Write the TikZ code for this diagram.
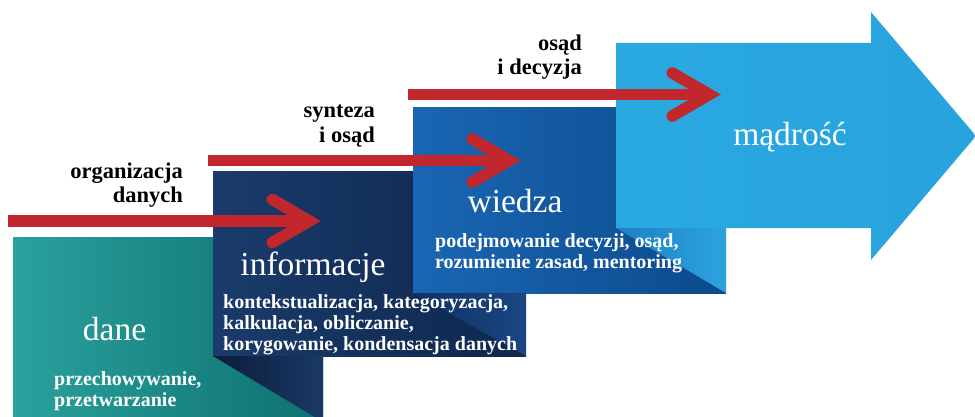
\documentclass[tikz,border=0pt]{standalone}
\usepackage{fontspec}
\usetikzlibrary{calc}
\newfontfamily\titlefont{Liberation Serif}
\newfontfamily\boldfont{Liberation Serif}
\definecolor{arrowred}{HTML}{C1272D}
\definecolor{daneL}{HTML}{2AA19D}
\definecolor{daneR}{HTML}{0E7070}
\definecolor{infL}{HTML}{1A3B6B}
\definecolor{infR}{HTML}{0E274D}
\definecolor{infFoldL}{HTML}{0A1C3A}
\definecolor{infFoldR}{HTML}{1B3866}
\definecolor{wieL}{HTML}{1A66B4}
\definecolor{wieR}{HTML}{0B4A8B}
\definecolor{wieFoldL}{HTML}{0F3264}
\definecolor{wieFoldR}{HTML}{1A4682}
\definecolor{madL}{HTML}{2AA9E1}
\definecolor{madR}{HTML}{28A2DC}
\definecolor{madFoldL}{HTML}{1F80C4}
\definecolor{madFoldR}{HTML}{2BA3DE}
\tikzset{
  redshaft/.style={draw=arrowred, line width=11.5pt, line cap=butt},
  redhead/.style={draw=arrowred, line width=11.5pt, line cap=round, line join=miter},
  title/.style={text=white, font=\titlefont\fontsize{33.5}{38}\selectfont, inner sep=0pt, anchor=base},
  desc/.style={text=white, font=\boldfont\bfseries\fontsize{20}{21}\selectfont, align=left, inner sep=0pt, anchor=north west},
  lbl/.style={text=black, font=\boldfont\bfseries\fontsize{22.5}{24.5}\selectfont, align=right, inner sep=0pt, anchor=north east},
}
\begin{document}
\begin{tikzpicture}[x=1pt,y=-1pt]
\useasboundingbox (0,0) rectangle (975,417);
\begin{scope}
\clip (0,0) rectangle (975,417);
% dane
\shade[left color=daneL, right color=daneR] (13,237) rectangle (323,425);
% informacje
\shade[left color=infL, right color=infR] (213,172) rectangle (526,356);
\shade[left color=infFoldL, right color=infFoldR] (213,356) -- (323,356) -- (323,422) -- cycle;
% wiedza
\shade[left color=wieL, right color=wieR] (413,108) rectangle (726,293);
\shade[left color=wieFoldL, right color=wieFoldR] (413,293) -- (526,293) -- (526,356) -- cycle;
% madrosc
\shade[left color=madL, right color=madR] (616,43) -- (871,43) -- (871,12) -- (976,136) -- (871,260) -- (871,228) -- (616,228) -- cycle;
\shade[left color=madFoldL, right color=madFoldR] (616,228) -- (726,228) -- (726,293) -- cycle;
\end{scope}

% titles
\node[title] (tdane) at (114.5,340) {dane};
\node[title] (tinf) at (313,275) {informacje};
\node[title] (twie) at (515,212) {wiedza};
\node[title] (tmad) at (790,146) {mądrość};

% descriptions
\node[desc] (ddane) at (54,371) {przechowywanie,\\przetwarzanie};
\node[desc] (dinf) at (223,294) {kontekstualizacja, kategoryzacja,\\kalkulacja, obliczanie,\\korygowanie, kondensacja danych};
\node[desc] (dwie) at (435,233) {podejmowanie decyzji, osąd,\\rozumienie zasad, mentoring};

% labels
\node[lbl] (l1) at (183,162.5) {organizacja\\danych};
\node[lbl] (l2) at (375,105) {synteza\\i osąd};
\node[lbl] (l3) at (582,34.5) {osąd\\i decyzja};

% red arrows
\coordinate (a1s) at (8,221);
\coordinate (a1v) at (309.3,221);
\coordinate (a2s) at (208,160.5);
\coordinate (a2v) at (509.3,160.5);
\coordinate (a3s) at (408,94.5);
\coordinate (a3v) at (709.3,94.5);
\foreach \s/\v in {a1s/a1v, a2s/a2v, a3s/a3v}{
  \draw[redshaft] (\s) -- (\v);
  \draw[redhead] ($(\v)+(-37,-21.5)$) -- (\v) -- ($(\v)+(-37,21.5)$);
}
\end{tikzpicture}
\end{document}
